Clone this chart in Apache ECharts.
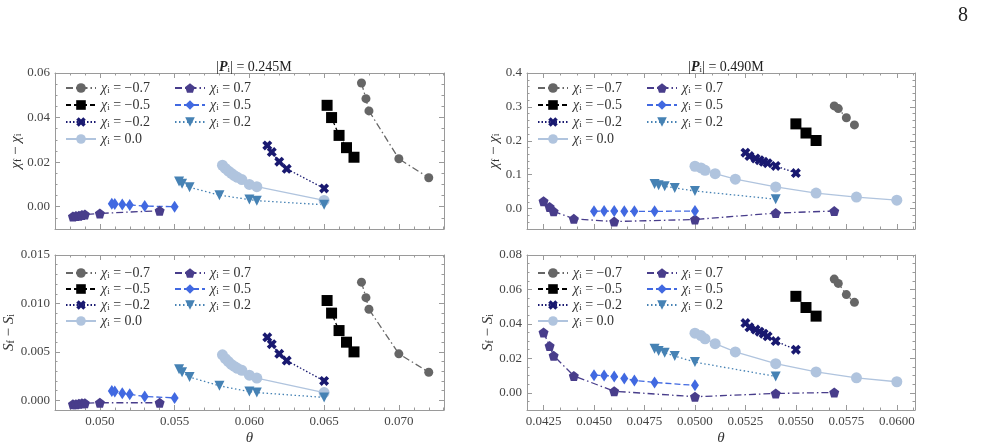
<!DOCTYPE html>
<html>
<head>
<meta charset="utf-8">
<script src="https://cdn.jsdelivr.net/npm/echarts@6/dist/echarts.min.js"></script>
<style>html,body{margin:0;padding:0;background:#fff}#main{width:986px;height:447px}</style>
</head>
<body>
<div id="main"></div>
<script>
// |P_i| = 0.245M (left column)
var thetaA_m07 = [0.0675, 0.0678, 0.068, 0.070, 0.072];
var chiA_m07   = [0.0555, 0.0485, 0.043, 0.0215, 0.013];
var sA_m07     = [0.0122, 0.0106, 0.0094, 0.0048, 0.0029];
var thetaA_m05 = [0.0652, 0.0655, 0.066, 0.0665, 0.067];
var chiA_m05   = [0.0455, 0.040, 0.032, 0.0265, 0.0222];
var sA_m05     = [0.0103, 0.009, 0.0072, 0.006, 0.005];
var thetaA_m02 = [0.0612, 0.0615, 0.062, 0.0625, 0.065];
var chiA_m02   = [0.0275, 0.0245, 0.0202, 0.017, 0.0082];
var sA_m02     = [0.0065, 0.0058, 0.0048, 0.0041, 0.002];
var thetaA_00  = [0.0582, 0.0584, 0.0586, 0.0588, 0.059, 0.0592, 0.0595, 0.060, 0.0605, 0.065];
var chiA_00    = [0.0186, 0.0172, 0.016, 0.015, 0.014, 0.0132, 0.0122, 0.01, 0.009, 0.0028];
var sA_00      = [0.0047, 0.0043, 0.004, 0.0037, 0.0035, 0.0033, 0.0031, 0.0026, 0.0023, 0.0008];
var thetaA_p07 = [0.0482, 0.0484, 0.0486, 0.0488, 0.049, 0.050, 0.054];
var chiA_p07   = [-0.0044, -0.0042, -0.004, -0.0037, -0.0035, -0.003, -0.0018];
var sA_p07     = [-0.0004, -0.0004, -0.00035, -0.0003, -0.0003, -0.00025, -0.00025];
var thetaA_p05 = [0.0508, 0.051, 0.0515, 0.052, 0.053, 0.055];
var chiA_p05   = [0.0013, 0.0012, 0.001, 0.0008, 0.0003, 0.0];
var sA_p05     = [0.00095, 0.0009, 0.00072, 0.00062, 0.0004, 0.00025];
var thetaA_p02 = [0.0553, 0.0555, 0.056, 0.058, 0.060, 0.0605, 0.065];
var chiA_p02   = [0.0113, 0.0103, 0.0087, 0.0052, 0.0032, 0.0027, 0.0009];
var sA_p02     = [0.0032, 0.0029, 0.0024, 0.0015, 0.0009, 0.0008, 0.0003];

// |P_i| = 0.490M (right column)
var thetaB_m07 = [0.0569, 0.0571, 0.0575, 0.0579];
var chiB_m07   = [0.303, 0.295, 0.268, 0.247];
var sB_m07     = [0.066, 0.0635, 0.057, 0.0525];
var thetaB_m05 = [0.055, 0.0555, 0.056];
var chiB_m05   = [0.25, 0.223, 0.201];
var sB_m05     = [0.056, 0.0495, 0.0445];
var thetaB_m02 = [0.0525, 0.0527, 0.053, 0.0532, 0.0534, 0.0536, 0.054, 0.055];
var chiB_m02   = [0.165, 0.155, 0.148, 0.143, 0.138, 0.134, 0.126, 0.105];
var sB_m02     = [0.0405, 0.038, 0.0367, 0.0355, 0.0343, 0.0328, 0.030, 0.025];
var thetaB_00  = [0.050, 0.0503, 0.0505, 0.051, 0.052, 0.054, 0.056, 0.058, 0.060];
var chiB_00    = [0.125, 0.12, 0.113, 0.103, 0.087, 0.064, 0.046, 0.034, 0.025];
var sB_00      = [0.0346, 0.0332, 0.0313, 0.0285, 0.0237, 0.0169, 0.0121, 0.0087, 0.0064];
var thetaB_p07 = [0.0425, 0.0428, 0.043, 0.044, 0.046, 0.050, 0.054, 0.0569];
var chiB_p07   = [0.022, 0.005, -0.008, -0.03, -0.038, -0.032, -0.013, -0.007];
var sB_p07     = [0.035, 0.0272, 0.0215, 0.0098, 0.0009, -0.0023, -0.0004, 0.0002];
var thetaB_p05 = [0.045, 0.0455, 0.046, 0.0465, 0.047, 0.048, 0.050];
var chiB_p05   = [-0.008, -0.007, -0.007, -0.008, -0.008, -0.008, -0.007];
var sB_p05     = [0.0102, 0.0101, 0.0095, 0.0083, 0.0072, 0.006, 0.0043];
var thetaB_p02 = [0.048, 0.0482, 0.0485, 0.049, 0.050, 0.054];
var chiB_p02   = [0.073, 0.069, 0.066, 0.061, 0.052, 0.028];
var sB_p02     = [0.0255, 0.0243, 0.0232, 0.0213, 0.0178, 0.0095];

var spinNames = ['-0.7', '-0.5', '-0.2', '0.0', '0.7', '0.5', '0.2'];

// tick labels
var xTicksA  = [0.050, 0.055, 0.060, 0.065, 0.070];
var xTicksB  = [0.0425, 0.0450, 0.0475, 0.0500, 0.0525, 0.0550, 0.0575, 0.0600];
var yTicksA1 = [0.00, 0.02, 0.04, 0.06];
var yTicksA2 = [0.000, 0.005, 0.010, 0.015];
var yTicksB1 = [0.0, 0.1, 0.2, 0.3, 0.4];
var yTicksB2 = [0.00, 0.02, 0.04, 0.06, 0.08];

var chart = echarts.init(document.getElementById('main'));

var frame = '#9a9a9a';
var serif = 'Liberation Serif';

var pentagon = 'path://M5,0 L10,3.7 L8.1,9.6 L1.9,9.6 L0,3.7 Z';
var cross = 'path://M2.6,0 L5,2.4 L7.4,0 L10,2.6 L7.6,5 L10,7.4 L7.4,10 L5,7.6 L2.6,10 L0,7.4 L2.4,5 L0,2.6 Z';

var look = {
  '-0.7': {color: '#666666', symbol: 'circle', size: 9, dash: [7, 3, 1.5, 3]},
  '-0.5': {color: '#000000', symbol: 'rect', size: 11, dash: [5, 3]},
  '-0.2': {color: '#191970', symbol: cross, size: 10, dash: [1.5, 2]},
  '0.0':  {color: '#b0c4de', symbol: 'circle', size: 11, dash: 'solid'},
  '0.7':  {color: '#483d8b', symbol: pentagon, size: 10, dash: [7, 3, 1.5, 3]},
  '0.5':  {color: '#4169e1', symbol: 'diamond', size: [8, 12], dash: [6, 3]},
  '0.2':  {color: '#4682b4', symbol: 'triangle', size: 10, dash: [1.5, 2.5], rot: 180}
};

function stepList(min, max, step) {
  var out = [];
  var n0 = Math.ceil(min / step - 1e-9), n1 = Math.floor(max / step + 1e-9);
  for (var k = n0; k <= n1; k++) out.push(+(k * step).toFixed(8));
  return out;
}

function axis(g, pos, min, max, ticks, len, line, extra) {
  return Object.assign({
    type: 'value', gridIndex: g, position: pos, min: min, max: max,
    splitLine: {show: false},
    axisLine: {show: line, onZero: false, lineStyle: {color: frame, width: 1}},
    axisTick: {show: true, inside: true, length: len, customValues: ticks, lineStyle: {color: frame, width: 1}},
    axisLabel: {show: false}
  }, extra || {});
}

var labelStyle = {fontFamily: serif, fontSize: 13, color: '#444'};
var subRich = {
  c: {fontFamily: serif, fontSize: 15, lineHeight: 15, color: '#333', fontStyle: 'italic'},
  n: {fontFamily: serif, fontSize: 15, lineHeight: 15, color: '#333'},
  s: {fontFamily: serif, fontSize: 10, lineHeight: 10, color: '#333', verticalAlign: 'bottom'}
};
var legRich = {
  c: {fontFamily: serif, fontSize: 14, lineHeight: 14, color: '#333', fontStyle: 'italic'},
  n: {fontFamily: serif, fontSize: 14, lineHeight: 14, color: '#333'},
  s: {fontFamily: serif, fontSize: 9, lineHeight: 9, color: '#333', verticalAlign: 'bottom'}
};

var xAxes = [], yAxes = [], series = [];

function panel(g, xr, yr, xMaj, xStep, xDec, yMaj, yStep, yDec, showX, yName, thetas, vals) {
  var xi = xAxes.length, yi = yAxes.length;
  var xMin = stepList(xr[0], xr[1], xStep), yMin = stepList(yr[0], yr[1], yStep);
  xAxes.push(axis(g, 'bottom', xr[0], xr[1], xMaj, 5, true, {
    axisLabel: Object.assign({show: showX, customValues: xMaj, margin: 5,
      formatter: function (v) { return v.toFixed(xDec); }}, labelStyle),
    name: showX ? 'θ' : '', nameLocation: 'middle', nameGap: 21,
    nameTextStyle: {fontFamily: serif, fontStyle: 'italic', fontSize: 15, color: '#333'}
  }));
  xAxes.push(axis(g, 'bottom', xr[0], xr[1], xMin, 2.5, false));
  xAxes.push(axis(g, 'top', xr[0], xr[1], xMaj, 5, true));
  xAxes.push(axis(g, 'top', xr[0], xr[1], xMin, 2.5, false));
  yAxes.push(axis(g, 'left', yr[0], yr[1], yMaj, 5, true, {
    axisLabel: Object.assign({show: true, customValues: yMaj, margin: 5,
      formatter: function (v) { return v.toFixed(yDec); }}, labelStyle),
    name: yName, nameLocation: 'middle', nameGap: g < 2 ? 30 : 23,
    nameTextStyle: {rich: subRich}
  }));
  yAxes.push(axis(g, 'left', yr[0], yr[1], yMin, 2.5, false));
  yAxes.push(axis(g, 'right', yr[0], yr[1], yMaj, 5, true));
  yAxes.push(axis(g, 'right', yr[0], yr[1], yMin, 2.5, false));

  spinNames.forEach(function (name, k) {
    var st = look[name];
    series.push({
      type: 'line', name: name, xAxisIndex: xi, yAxisIndex: yi,
      data: thetas[k].map(function (t, j) { return [t, vals[k][j]]; }),
      symbol: st.symbol, symbolSize: st.size, symbolRotate: st.rot || 0,
      showAllSymbol: true, animation: false,
      itemStyle: {color: st.color},
      lineStyle: {color: st.color, width: 1.3, type: st.dash}
    });
  });
}

var thetasA = [thetaA_m07, thetaA_m05, thetaA_m02, thetaA_00, thetaA_p07, thetaA_p05, thetaA_p02];
var thetasB = [thetaB_m07, thetaB_m05, thetaB_m02, thetaB_00, thetaB_p07, thetaB_p05, thetaB_p02];

var chiName = '{c|χ}{s|f}{n| − }{c|χ}{s|i}';
var sName = '{c|S}{s|f}{n| − }{c|S}{s|i}';

panel(0, [0.047, 0.07302], [-0.01, 0.06], xTicksA, 0.001, 3, yTicksA1, 0.005, 2, false, chiName,
  thetasA, [chiA_m07, chiA_m05, chiA_m02, chiA_00, chiA_p07, chiA_p05, chiA_p02]);
panel(1, [0.047, 0.07302], [-0.001, 0.015], xTicksA, 0.001, 3, yTicksA2, 0.001, 3, true, sName,
  thetasA, [sA_m07, sA_m05, sA_m02, sA_00, sA_p07, sA_p05, sA_p02]);
panel(2, [0.04168, 0.0609], [-0.06, 0.4], xTicksB, 0.0025 / 3, 4, yTicksB1, 0.02, 1, false, chiName,
  thetasB, [chiB_m07, chiB_m05, chiB_m02, chiB_00, chiB_p07, chiB_p05, chiB_p02]);
panel(3, [0.04168, 0.0609], [-0.01, 0.08], xTicksB, 0.0025 / 3, 4, yTicksB2, 0.005, 2, true, sName,
  thetasB, [sB_m07, sB_m05, sB_m02, sB_00, sB_p07, sB_p05, sB_p02]);

function legendAt(left, top, names, gap) {
  return {
    left: left, top: top, orient: 'vertical', data: names, selectedMode: false,
    itemWidth: 30, itemHeight: 12, itemGap: gap, padding: 0,
    formatter: function (n) { return '{c|χ}{s|i}{n| = ' + n.replace('-', '−') + '}'; },
    textStyle: {rich: legRich}
  };
}
var colA = spinNames.slice(0, 4), colB = spinNames.slice(4);

var titleRich = {
  p: {fontFamily: serif, fontSize: 14, fontWeight: 'bold', fontStyle: 'italic', color: '#222'},
  s: {fontFamily: serif, fontSize: 9, lineHeight: 9, fontWeight: 'normal', color: '#222', verticalAlign: 'bottom'},
  n: {fontFamily: serif, fontSize: 14, fontWeight: 'normal', color: '#222'}
};
var titleStyle = {rich: titleRich, fontWeight: 'normal', fontFamily: serif, fontSize: 14, color: '#222'};

chart.setOption({
  backgroundColor: '#fff',
  animation: false,
  grid: [
    {left: 55, top: 73, width: 389, height: 156},
    {left: 55, top: 255, width: 389, height: 157},
    {left: 527, top: 73, width: 388, height: 156},
    {left: 527, top: 255, width: 388, height: 157}
  ],
  title: [
    {text: '{n||}{p|P}{s|i}{n|| = 0.245M}', left: 249, top: 55, textAlign: 'center', textStyle: titleStyle},
    {text: '{n||}{p|P}{s|i}{n|| = 0.490M}', left: 721, top: 55, textAlign: 'center', textStyle: titleStyle}
  ],
  legend: [
    legendAt(65, 81, colA, 3), legendAt(174, 81, colB, 3),
    legendAt(65, 266, colA, 2), legendAt(174, 266, colB, 2),
    legendAt(537, 81, colA, 3), legendAt(646, 81, colB, 3),
    legendAt(537, 266, colA, 2), legendAt(646, 266, colB, 2)
  ],
  xAxis: xAxes,
  yAxis: yAxes,
  series: series,
  graphic: [{type: 'text', left: 958, top: 6,
    style: {text: '8', fontFamily: serif, fontSize: 20, fill: '#222'}}]
});
</script>
</body>
</html>
